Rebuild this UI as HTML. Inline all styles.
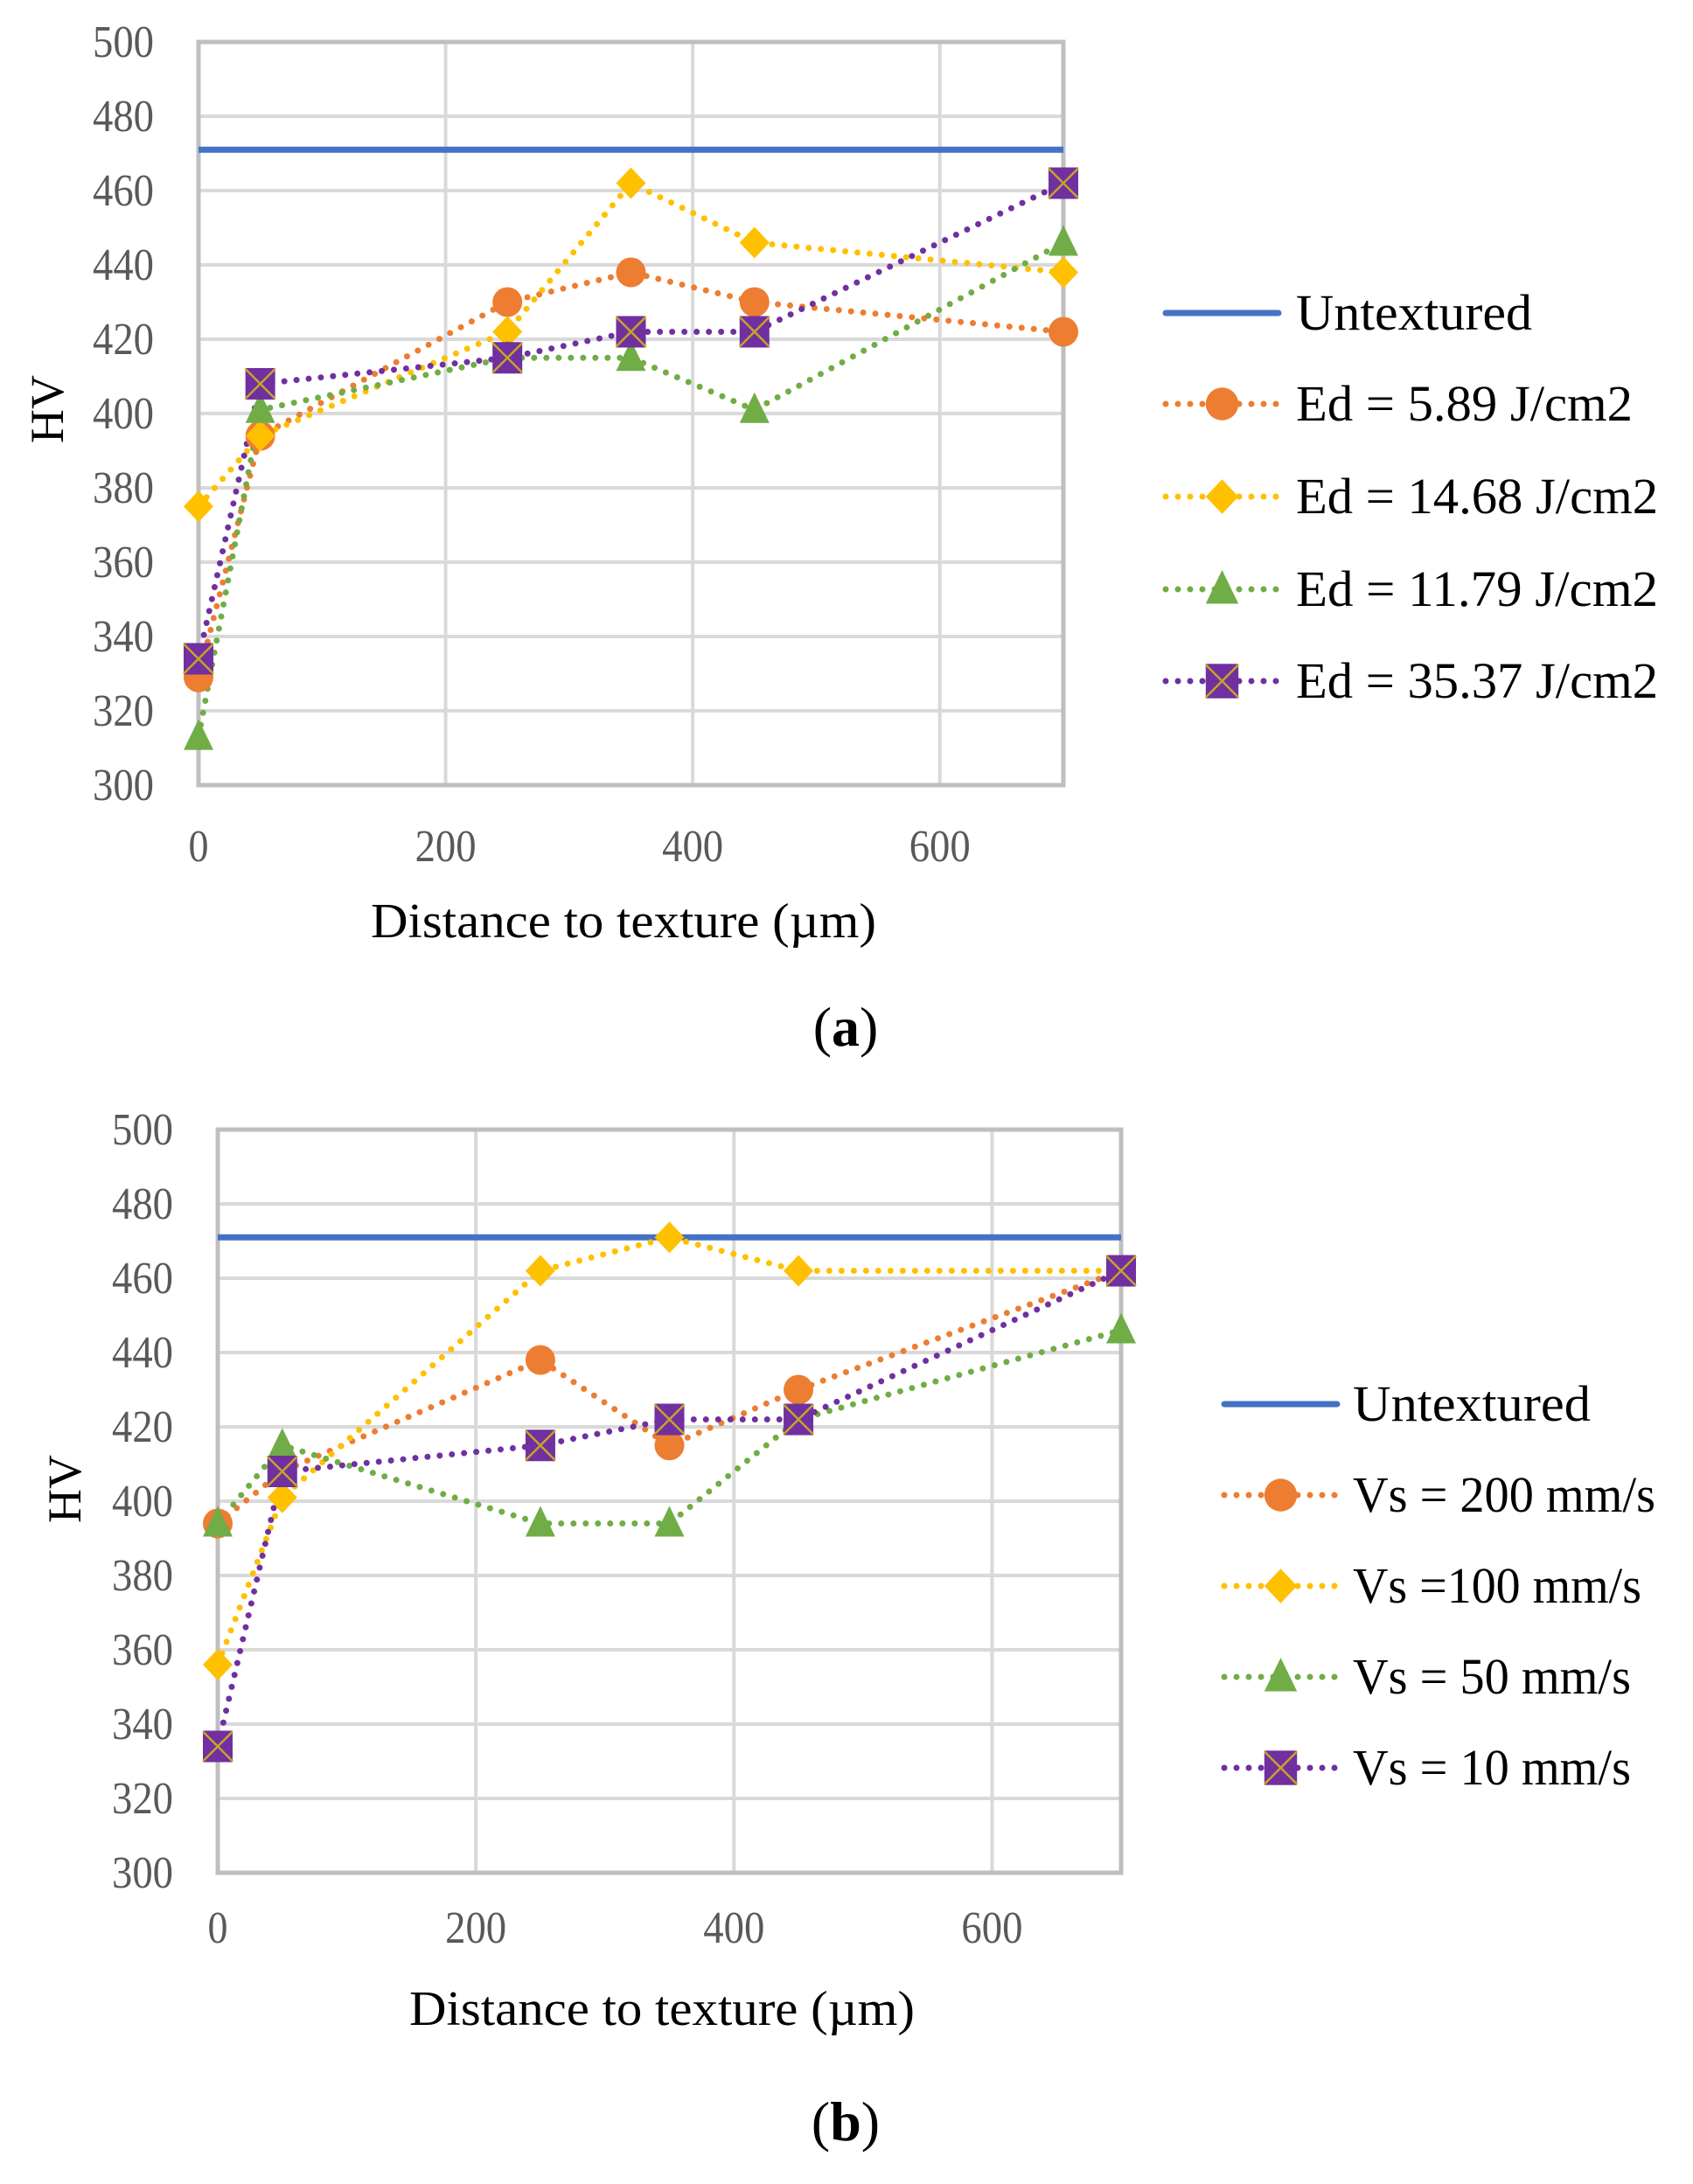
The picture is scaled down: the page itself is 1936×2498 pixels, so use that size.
<!DOCTYPE html>
<html><head><meta charset="utf-8"><style>
html,body{margin:0;padding:0;background:#fff;}
svg{display:block;}
text{font-family:"Liberation Serif",serif;}
</style></head><body>
<svg id="fig" width="1936" height="2498" viewBox="0 0 1936 2498" xmlns="http://www.w3.org/2000/svg"></svg>
<script>
const xValues = [0, 50, 250, 350, 450, 700];
const xTicks = [0, 200, 400, 600];
const yTicks = [300, 320, 340, 360, 380, 400, 420, 440, 460, 480, 500];
const untextured = 471;
const aNames = ["Ed = 5.89 J/cm2", "Ed = 14.68 J/cm2", "Ed = 11.79 J/cm2", "Ed = 35.37 J/cm2"];
const aOrange = [329, 394, 430, 438, 430, 422];
const aYellow = [375, 394, 422, 462, 446, 438];
const aGreen = [313, 401, 415, 415, 401, 446];
const aPurple = [334, 408, 415, 422, 422, 462];
const bNames = ["Vs = 200 mm/s", "Vs =100 mm/s", "Vs = 50 mm/s", "Vs = 10 mm/s"];
const bOrange = [394, 408, 438, 415, 430, 462];
const bYellow = [356, 401, 462, 471, 462, 462];
const bGreen = [394, 415, 394, 394, 422, 446];
const bPurple = [334, 408, 415, 422, 422, 462];

const NS = "http://www.w3.org/2000/svg";
const svg = document.getElementById("fig");
const colors = ["#ED7D31", "#FFC000", "#70AD47", "#7030A0"];
const shapes = ["circle", "diamond", "triangle", "square"];

function mk(tag, attrs, parent) {
  const e = document.createElementNS(NS, tag);
  for (const k in attrs) e.setAttribute(k, attrs[k]);
  (parent || svg).appendChild(e);
  return e;
}

function marker(g, shape, color, cx, cy, s) {
  s = s || 1;
  let m;
  if (shape === "circle") {
    m = mk("circle", {cx: cx, cy: cy, r: 17*s, fill: color}, g);
  } else if (shape === "diamond") {
    m = mk("polygon", {points: `${cx},${cy-18*s} ${cx+17*s},${cy} ${cx},${cy+18*s} ${cx-17*s},${cy}`, fill: color}, g);
  } else if (shape === "triangle") {
    m = mk("polygon", {points: `${cx},${cy-20*s} ${cx+17*s},${cy+15*s} ${cx-17*s},${cy+15*s}`, fill: color}, g);
  } else {
    m = mk("g", {}, g);
    const h = 17*s;
    mk("rect", {x: cx-h, y: cy-h-1, width: 2*h, height: 2*h+2, fill: color}, m);
    mk("path", {d: `M${cx-h},${cy-h}L${cx+h},${cy+h}M${cx+h},${cy-h}L${cx-h},${cy+h}`, stroke: "#C9A227", "stroke-width": 2.5}, m);
  }
  return m;
}

function chart(cfg) {
  const {prefix, left, right, top, bottom, series, names, tickLabelRight, xTickY, hvX, hvY, titleX, titleY, titleW, legLineX1, legLineX2, legTextX, legRows, legTextW, panel, panelY} = cfg;
  const xs = v => left + (v - 0) / 700 * (right - left);
  const ys = v => bottom - (v - 300) / 200 * (bottom - top);
  const g = mk("g", {});
  
  
  const grid = mk("g", {}, g);
  
  
  yTicks.forEach(t => {
    mk("line", {x1: left, x2: right, y1: ys(t), y2: ys(t), stroke: "#D9D9D9", "stroke-width": 4}, grid);
    const tl = mk("text", {x: tickLabelRight, y: ys(t) + 17, "text-anchor": "end", "font-size": 52, fill: "#595959", textLength: 70, lengthAdjust: "spacingAndGlyphs"}, g);
    tl.textContent = t;
    
    
  });
  xTicks.forEach(t => {
    const tl = mk("text", {x: xs(t), y: xTickY, "text-anchor": "middle", "font-size": 52, fill: "#595959"}, g);
    if (t > 0) { tl.setAttribute("textLength", 70); tl.setAttribute("lengthAdjust", "spacingAndGlyphs"); }
    else { tl.setAttribute("textLength", 23); tl.setAttribute("lengthAdjust", "spacingAndGlyphs"); }
    tl.textContent = t;
    
    
    mk("line", {x1: xs(t), x2: xs(t), y1: top, y2: bottom, stroke: "#D9D9D9", "stroke-width": 4}, grid);
  });
  const frame = mk("rect", {x: left, y: top, width: right - left, height: bottom - top, fill: "none", stroke: "#BFBFBF", "stroke-width": 5}, g);
  
  
  const ul = mk("line", {x1: left, x2: right, y1: ys(untextured), y2: ys(untextured), stroke: "#4472C4", "stroke-width": 7}, g);
  
  
  series.forEach((vals, i) => {
    const d = vals.map((v, j) => (j ? "L" : "M") + xs(xValues[j]) + "," + ys(v)).join("");
    const ln = mk("path", {d: d, fill: "none", stroke: colors[i], "stroke-width": 7, "stroke-linecap": "round", "stroke-dasharray": "0 14"}, g);
    
    
  });
  series.forEach((vals, i) => {
    vals.forEach((v, j) => {
      const m = marker(g, shapes[i], colors[i], xs(xValues[j]), ys(v));
      
      
    });
  });
  const hv = mk("text", {x: hvX, y: hvY, "text-anchor": "middle", "font-size": 54, fill: "#000", transform: `rotate(-90 ${hvX} ${hvY})`}, g);
  hv.textContent = "HV";
  
  
  const xt = mk("text", {x: titleX, y: titleY, "text-anchor": "middle", "font-size": 56, fill: "#000", textLength: titleW, lengthAdjust: "spacingAndGlyphs"}, g);
  xt.textContent = "Distance to texture (µm)";
  
  
  const leg = mk("g", {}, g);
  
  
  const allNames = ["Untextured"].concat(names);
  allNames.forEach((nm, i) => {
    const ly = legRows[i];
    const e = mk("g", {}, leg);
    
    
    if (i === 0) {
      mk("line", {x1: legLineX1, x2: legLineX2, y1: ly, y2: ly, stroke: "#4472C4", "stroke-width": 7, "stroke-linecap": "round"}, e);
    } else {
      mk("line", {x1: legLineX1, x2: legLineX2, y1: ly, y2: ly, stroke: colors[i-1], "stroke-width": 7, "stroke-linecap": "round", "stroke-dasharray": "0 14"}, e);
      marker(e, shapes[i-1], colors[i-1], (legLineX1 + legLineX2) / 2, ly, 1.1);
    }
    const t = mk("text", {x: legTextX, y: ly + 19, "font-size": 58, fill: "#000", textLength: legTextW[i], lengthAdjust: "spacingAndGlyphs"}, e);
    t.textContent = nm;
  });
  const pl = mk("text", {x: 967, y: panelY, "text-anchor": "middle", "font-size": 64, fill: "#000"}, g);
  pl.innerHTML = '(<tspan font-weight="bold">' + panel + '</tspan>)';
  
  
}

chart({prefix: "chart-a", left: 227, right: 1216, top: 48, bottom: 898,
  series: [aOrange, aYellow, aGreen, aPurple], names: aNames,
  tickLabelRight: 176, xTickY: 985, hvX: 72, hvY: 468, titleX: 713, titleY: 1072, titleW: 578,
  legLineX1: 1333, legLineX2: 1462, legTextX: 1482, legRows: [358, 462, 568, 674, 779],
  legTextW: [270, 385, 414, 414, 414], panel: "a", panelY: 1196});

chart({prefix: "chart-b", left: 249, right: 1282, top: 1292, bottom: 2142,
  series: [bOrange, bYellow, bGreen, bPurple], names: bNames,
  tickLabelRight: 198, xTickY: 2222, hvX: 92, hvY: 1703, titleX: 757, titleY: 2316, titleW: 578,
  legLineX1: 1400, legLineX2: 1529, legTextX: 1547, legRows: [1606, 1710, 1814, 1918, 2022],
  legTextW: [272, 346, 330, 318, 318], panel: "b", panelY: 2448});
</script>
</body></html>
